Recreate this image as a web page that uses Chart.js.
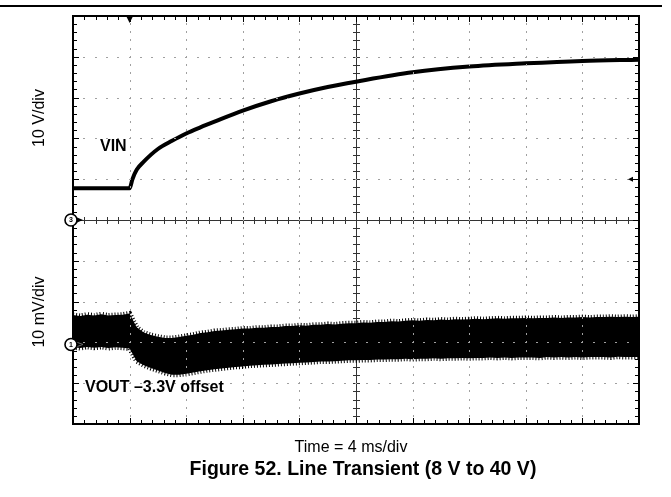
<!DOCTYPE html>
<html>
<head>
<meta charset="utf-8">
<script src="https://cdn.jsdelivr.net/npm/chart.js@4.4.0/dist/chart.umd.min.js"></script>
<style>
  html, body { margin: 0; padding: 0; background: #fff; }
  #wrap { position: relative; width: 671px; height: 497px; overflow: hidden;
          font-family: "Liberation Sans", Arial, Helvetica, sans-serif; color: #000; }
  #scope { position: absolute; left: 0; top: 0; }
  .rule { position: absolute; left: 0; top: 5px; width: 662px; height: 2px; background: #000; }
  .lbl { position: absolute; white-space: nowrap; line-height: 1; }
  .rot { transform: translate(-50%, -50%) rotate(-90deg); }
  .ctr { transform: translateX(-50%); }
</style>
</head>
<body>
<div id="wrap">
  <canvas id="scope" width="671" height="497"></canvas>
  <div class="rule"></div>
  <div class="lbl rot" style="left:39px; top:118px; font-size:16px;">10 V/div</div>
  <div class="lbl rot" style="left:39px; top:312px; font-size:16px;">10 mV/div</div>
  <div class="lbl" style="left:100px; top:138px; font-size:16px; font-weight:bold;">VIN</div>
  <div class="lbl" style="left:85px; top:379px; font-size:16px; font-weight:bold;">VOUT –3.3V offset</div>
  <div class="lbl ctr" style="left:351px; top:439px; font-size:16px;">Time = 4 ms/div</div>
  <div class="lbl ctr" style="left:363px; top:459px; font-size:19.5px; font-weight:bold;">Figure 52. Line Transient (8 V to 40 V)</div>
</div>
<script>
// Input voltage step (channel 3): time in ms, volts
const vinTimeMs = [0, 4, 4.2, 4.5, 5, 6, 7, 8, 9, 10, 12, 14, 16, 18, 20, 24, 28, 32, 36, 40];
const vinVolts  = [7.8, 7.8, 10.0, 12.3, 14.3, 17.4, 19.4, 21.2, 22.7, 24.1, 26.8, 29.1, 31.0, 32.6, 33.9, 36.2, 37.6, 38.4, 39.0, 39.3];

// Output ripple envelope (channel 1, 3.3 V offset removed): time in ms, mV
const voutTimeMs = [
  0, 0.5, 1, 1.5, 2, 2.5, 3, 3.5, 4, 4.5,
  5, 5.5, 6, 6.5, 7, 7.5, 8, 8.5, 9, 9.5,
  10, 10.5, 11, 11.5, 12, 12.5, 13, 13.5, 14, 14.5,
  15, 15.5, 16, 16.5, 17, 17.5, 18, 18.5, 19, 19.5,
  20, 20.5, 21, 21.5, 22, 22.5, 23, 23.5, 24, 24.5,
  25, 25.5, 26, 26.5, 27, 27.5, 28, 28.5, 29, 29.5,
  30, 30.5, 31, 31.5, 32, 32.5, 33, 33.5, 34, 34.5,
  35, 35.5, 36, 36.5, 37, 37.5, 38, 38.5, 39, 39.5,
  40
];
const voutHighMv = [
  7.2, 7.0, 7.3, 7.1, 7.4, 7.1, 7.2, 7.3, 7.6, 4.2,
  2.9, 2.3, 1.9, 1.6, 1.6, 1.8, 2.1, 2.4, 2.8, 3.0,
  3.3, 3.4, 3.6, 3.7, 3.9, 3.9, 4.1, 4.1, 4.3, 4.3,
  4.5, 4.5, 4.7, 4.6, 4.8, 4.8, 5.0, 4.9, 5.1, 5.2,
  5.2, 5.4, 5.3, 5.5, 5.5, 5.7, 5.6, 5.8, 5.9, 5.8,
  6.0, 5.9, 6.1, 6.0, 6.2, 6.1, 6.2, 6.3, 6.2, 6.3,
  6.4, 6.3, 6.4, 6.4, 6.5, 6.4, 6.5, 6.5, 6.6, 6.5,
  6.6, 6.6, 6.7, 6.6, 6.7, 6.7, 6.8, 6.7, 6.8, 6.7,
  6.8
];
const voutLowMv = [
  -0.7, -0.9, -0.6, -0.8, -0.6, -0.9, -0.7, -0.8, -1.0, -4.1,
  -5.1, -5.8, -6.4, -7.0, -7.4, -7.4, -7.2, -6.9, -6.6, -6.3,
  -6.1, -5.9, -5.7, -5.5, -5.4, -5.2, -5.1, -5.0, -4.9, -4.8,
  -4.7, -4.6, -4.5, -4.4, -4.3, -4.2, -4.2, -4.1, -4.0, -3.9,
  -3.9, -3.8, -3.8, -3.7, -3.7, -3.6, -3.6, -3.5, -3.6, -3.5,
  -3.5, -3.4, -3.5, -3.4, -3.4, -3.3, -3.4, -3.3, -3.3, -3.2,
  -3.3, -3.2, -3.3, -3.2, -3.2, -3.2, -3.3, -3.1, -3.2, -3.1,
  -3.2, -3.1, -3.2, -3.1, -3.1, -3.1, -3.2, -3.0, -3.1, -3.1,
  -3.1
];

// Screen settings: 10 divisions each way
const timeSpanMs = 40;          // 4 ms/div
const vinRange = [-50, 50];     // 10 V/div, ch3 ground at centre
const voutRange = [-19.5, 80.5];// 10 mV/div, ch1 reference ~3 div below centre
const triggerTimeMs = 4;
const triggerLevelV = 10;

const pairs = (xs, ys) => xs.map((x, i) => ({ x: x, y: ys[i] }));

// Oscilloscope graticule, reference markers and frame
const scopeGraticule = {
  id: 'scopeGraticule',
  beforeDatasetsDraw(chart) {
    const { ctx, chartArea: a, scales } = chart;
    const xs = scales.x, ys = scales.yVin;
    const cx = Math.round(xs.getPixelForValue(timeSpanMs / 2)) + 0.5;
    const cy = Math.round(ys.getPixelForValue(0)) + 0.5;
    ctx.save();
    ctx.strokeStyle = '#333';
    ctx.lineWidth = 1;
    ctx.beginPath();
    ctx.moveTo(a.left, cy); ctx.lineTo(a.right, cy);
    ctx.moveTo(cx, a.top); ctx.lineTo(cx, a.bottom);
    for (let i = 1; i < 50; i++) {
      const x = Math.round(xs.getPixelForValue(i * 0.8)) + 0.5;
      ctx.moveTo(x, cy - 3.5); ctx.lineTo(x, cy + 3.5);
    }
    for (let i = 1; i < 50; i++) {
      const y = Math.round(ys.getPixelForValue(vinRange[0] + i * 2)) + 0.5;
      ctx.moveTo(cx - 3.5, y); ctx.lineTo(cx + 3.5, y);
    }
    ctx.stroke();
    ctx.restore();
  },
  afterDatasetsDraw(chart) {
    const { ctx, chartArea: a, scales } = chart;
    const xs = scales.x, ys = scales.yVin, yo = scales.yVout;
    ctx.save();
    // dotted division lines
    ctx.fillStyle = '#a0a0a0';
    for (let d = 1; d < 10; d++) {
      if (d === 5) continue;
      const x = Math.round(xs.getPixelForValue(d * 4));
      for (let i = 1; i < 50; i++) {
        const y = Math.round(ys.getPixelForValue(vinRange[0] + i * 2));
        ctx.fillRect(x, y - 1, 1, 2);
      }
      const y = Math.round(ys.getPixelForValue(vinRange[0] + d * 10));
      for (let i = 1; i < 50; i++) {
        const x2 = Math.round(xs.getPixelForValue(i * 0.8));
        ctx.fillRect(x2 - 1, y, 2, 1);
      }
    }
    // frame ticks
    ctx.strokeStyle = '#000';
    ctx.lineWidth = 1;
    ctx.beginPath();
    for (let i = 1; i < 50; i++) {
      const x = Math.round(xs.getPixelForValue(i * 0.8)) + 0.5;
      const len = i % 5 === 0 ? 6 : 4;
      ctx.moveTo(x, a.top); ctx.lineTo(x, a.top + len);
      ctx.moveTo(x, a.bottom); ctx.lineTo(x, a.bottom - len);
      const y = Math.round(ys.getPixelForValue(vinRange[0] + i * 2)) + 0.5;
      ctx.moveTo(a.left, y); ctx.lineTo(a.left + len, y);
      ctx.moveTo(a.right, y); ctx.lineTo(a.right - len, y);
    }
    ctx.stroke();
    // frame
    ctx.lineWidth = 2;
    ctx.strokeRect(a.left, a.top, a.right - a.left, a.bottom - a.top);

    // trigger position (top) and trigger level (right)
    const tx = xs.getPixelForValue(triggerTimeMs);
    ctx.fillStyle = '#000';
    ctx.beginPath();
    ctx.moveTo(tx - 3.5, a.top); ctx.lineTo(tx + 3.5, a.top); ctx.lineTo(tx, a.top + 7);
    ctx.closePath(); ctx.fill();
    const ty = ys.getPixelForValue(triggerLevelV);
    ctx.beginPath();
    ctx.moveTo(a.right - 11, ty); ctx.lineTo(a.right - 6, ty - 2.5); ctx.lineTo(a.right - 6, ty + 2.5);
    ctx.closePath(); ctx.fill();

    // channel reference markers
    const marker = (y, label, solidArrow) => {
      const x = a.left - 2;
      ctx.fillStyle = '#000';
      ctx.strokeStyle = solidArrow ? '#000' : '#666';
      ctx.lineWidth = 1;
      if (solidArrow) {
        ctx.beginPath();
        ctx.moveTo(x + 5, y - 3); ctx.lineTo(x + 12, y); ctx.lineTo(x + 5, y + 3);
        ctx.closePath(); ctx.fill();
      } else {
        ctx.beginPath();
        ctx.moveTo(x + 5, y - 2.5); ctx.lineTo(x + 12, y); ctx.lineTo(x + 5, y + 2.5);
        ctx.stroke();
      }
      ctx.beginPath();
      ctx.arc(x, y, 6, 0, Math.PI * 2);
      ctx.fillStyle = '#fff';
      ctx.fill();
      ctx.lineWidth = 1.6;
      ctx.strokeStyle = '#000';
      ctx.stroke();
      ctx.fillStyle = '#000';
      ctx.font = 'bold 7px "Liberation Sans", Arial, sans-serif';
      ctx.textAlign = 'center';
      ctx.textBaseline = 'middle';
      ctx.fillText(label, x, y + 0.5);
    };
    marker(ys.getPixelForValue(0), '3', true);
    marker(yo.getPixelForValue(0), '1', false);
    ctx.restore();
  }
};

new Chart(document.getElementById('scope'), {
  type: 'line',
  data: {
    datasets: [
      {
        label: 'VOUT high',
        data: pairs(voutTimeMs, voutHighMv),
        yAxisID: 'yVout',
        borderColor: '#000',
        backgroundColor: '#000',
        borderWidth: 5,
        borderDash: [1, 2],
        pointRadius: 0,
        tension: 0,
        fill: '+1'
      },
      {
        label: 'VOUT low',
        data: pairs(voutTimeMs, voutLowMv),
        yAxisID: 'yVout',
        borderColor: '#000',
        borderWidth: 5,
        borderDash: [1, 2],
        pointRadius: 0,
        tension: 0,
        fill: false
      },
      {
        label: 'VIN',
        data: pairs(vinTimeMs, vinVolts),
        yAxisID: 'yVin',
        borderColor: '#000',
        borderWidth: 4,
        pointRadius: 0,
        cubicInterpolationMode: 'monotone',
        fill: false
      }
    ]
  },
  options: {
    responsive: false,
    animation: false,
    devicePixelRatio: 1,
    layout: { padding: { left: 73, top: 16, right: 32, bottom: 73 } },
    scales: {
      x: { type: 'linear', min: 0, max: timeSpanMs, display: false },
      yVin: { type: 'linear', min: vinRange[0], max: vinRange[1], display: false },
      yVout: { type: 'linear', min: voutRange[0], max: voutRange[1], display: false }
    },
    plugins: {
      legend: { display: false },
      tooltip: { enabled: false }
    }
  },
  plugins: [scopeGraticule]
});
</script>
</body>
</html>
